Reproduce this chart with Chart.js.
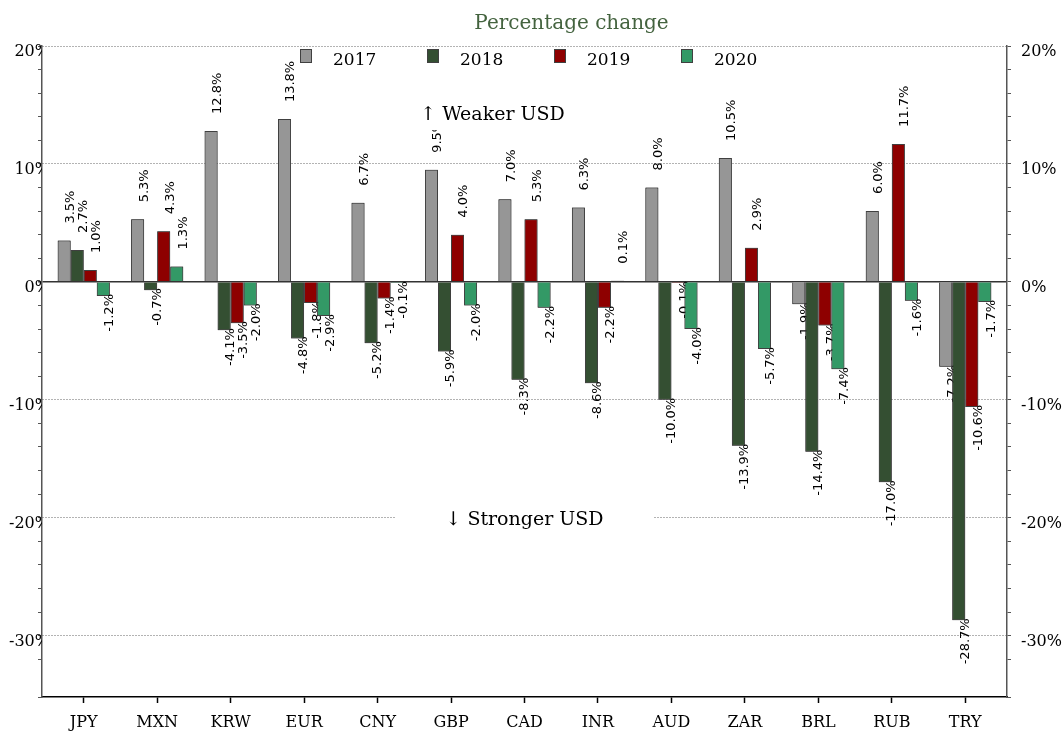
<!DOCTYPE html>
<html>
<head>
<meta charset="utf-8">
<script src="https://cdn.jsdelivr.net/npm/chart.js@4/dist/chart.umd.min.js"></script>
<style>
html, body { margin: 0; padding: 0; background: #fff; }
canvas { display: block; }
</style>
</head>
<body>
<canvas id="chart" width="1064" height="733"></canvas>
<script>
const currencies = ['JPY', 'MXN', 'KRW', 'EUR', 'CNY', 'GBP', 'CAD', 'INR', 'AUD', 'ZAR', 'BRL', 'RUB', 'TRY'];

const change2017 = [3.5, 5.3, 12.8, 13.8, 6.7, 9.5, 7.0, 6.3, 8.0, 10.5, -1.9, 6.0, -7.2];
const change2018 = [2.7, -0.7, -4.1, -4.8, -5.2, -5.9, -8.3, -8.6, -10.0, -13.9, -14.4, -17.0, -28.7];
const change2019 = [1.0, 4.3, -3.5, -1.8, -1.4, 4.0, 5.3, -2.2, -0.1, 2.9, -3.7, 11.7, -10.6];
const change2020 = [-1.2, 1.3, -2.0, -2.9, -0.1, -2.0, -2.2, 0.1, -4.0, -5.7, -7.4, -1.6, -1.7];

const yearLabels = ['2017', '2018', '2019', '2020'];
const titleText = 'Percentage change';
const notes = [
    { text: '\u2191 Weaker USD', value: 14.15, dx: -32 },
    { text: '\u2193 Stronger USD', value: -20.2, dx: 0 },
];

const serif = '"DejaVu Serif"';
const sans = '"DejaVu Sans"';
const edge = '#404040';

const data = {
    labels: currencies,
    datasets: [{
        label: yearLabels[0],
        backgroundColor: '#969696',
        data: change2017
    },
    {
        label: yearLabels[1],
        backgroundColor: '#344f32',
        data: change2018
    },
    {
        label: yearLabels[2],
        backgroundColor: '#8e0000',
        data: change2019
    },
    {
        label: yearLabels[3],
        backgroundColor: '#339966',
        data: change2020
    }]
};

const isMajor = v => Math.abs(v % 10) < 1e-6;

const yTicks = (padding) => ({
    stepSize: 2,
    autoSkip: false,
    padding: padding,
    labelOffset: 6,
    color: '#000',
    font: { family: 'DejaVu Serif', size: 16 },
    callback: v => isMajor(v) ? v + '%' : ''
});

// pull the categories in a little from the two value axes
const insetPlugin = {
    id: 'inset',
    afterLayout(chart) {
        const x = chart.scales.x;
        x._startPixel += 5;
        x._endPixel -= 5;
        x._length = x._endPixel - x._startPixel;
    }
};

// each series' labels sit under the next series' bars
const barLabels = {
    id: 'barLabels',
    afterDatasetsDraw(chart) {
        const ctx = chart.ctx;
        chart.data.datasets.forEach((ds, i) => {
            const meta = chart.getDatasetMeta(i);
            meta.data.forEach(bar => bar.draw(ctx));
            ctx.save();
            ctx.font = '13px ' + sans;
            ctx.fillStyle = '#000';
            ctx.textBaseline = 'middle';
            meta.data.forEach((bar, j) => {
                const v = ds.data[j];
                const up = v >= 0;
                ctx.save();
                ctx.translate(bar.x + bar.width / 2, up ? bar.y - 17 : bar.y - 2);
                ctx.rotate(-Math.PI / 2);
                ctx.textAlign = up ? 'left' : 'right';
                ctx.fillText(v.toFixed(1) + '%', 0, 0);
                ctx.restore();
            });
            ctx.restore();
        });
    }
};

const decorations = {
    id: 'decorations',
    afterDraw(chart) {
        const { ctx, chartArea, scales } = chart;
        const mid = (chartArea.left + chartArea.right) / 2;
        ctx.save();

        ctx.font = '20px ' + serif;
        ctx.fillStyle = '#44633f';
        ctx.textAlign = 'center';
        ctx.textBaseline = 'alphabetic';
        ctx.fillText(titleText, mid + 47, 29);

        ctx.font = '17px ' + serif;
        ctx.textAlign = 'left';
        chart.data.datasets.forEach((ds, i) => {
            const x = 300 + 127 * i;
            ctx.fillStyle = ds.backgroundColor;
            ctx.fillRect(x, 49, 12, 14);
            ctx.strokeStyle = edge;
            ctx.lineWidth = 1;
            ctx.strokeRect(x + 0.5, 49.5, 11, 13);
            ctx.fillStyle = '#000';
            ctx.fillText(ds.label, x + 33, 65);
        });

        ctx.font = '19px ' + serif;
        ctx.textAlign = 'center';
        ctx.textBaseline = 'middle';
        notes.forEach(n => {
            const y = scales.y.getPixelForValue(n.value);
            const x = mid + n.dx;
            const w = ctx.measureText(n.text).width + 100;
            ctx.fillStyle = '#fff';
            ctx.fillRect(x - w / 2, y - 15, w, 30);
            ctx.fillStyle = '#000';
            ctx.fillText(n.text, x, y);
        });
        ctx.restore();
    }
};

const config = {
    type: 'bar',
    data: data,
    options: {
        responsive: false,
        devicePixelRatio: 1,
        animation: false,
        layout: { padding: { top: 46, left: 0, right: 0, bottom: 0 } },
        datasets: {
            bar: {
                categoryPercentage: 0.71,
                barPercentage: 1.0,
                borderWidth: 1,
                borderColor: edge
            }
        },
        plugins: {
            legend: { display: false },
            title: { display: false },
            tooltip: { enabled: false }
        },
        scales: {
            x: {
                offset: true,
                afterFit: s => { s.height = 36; },
                grid: {
                    drawOnChartArea: false,
                    offset: false,
                    tickLength: 6,
                    tickColor: '#000',
                    tickWidth: 1.5
                },
                border: { color: '#000', width: 1.5 },
                ticks: {
                    padding: 10,
                    color: '#000',
                    font: { family: 'DejaVu Serif', size: 16 }
                }
            },
            y: {
                position: 'left',
                min: -35.2,
                max: 20,
                afterFit: s => { s.width = 42; },
                grid: {
                    color: c => c.tick && isMajor(c.tick.value) ? (c.tick.value === 0 ? '#333' : '#666') : 'rgba(0,0,0,0)',
                    lineWidth: c => c.tick && c.tick.value === 0 ? 1.5 : 1,
                    tickLength: 4,
                    tickColor: '#555'
                },
                border: {
                    color: '#555',
                    width: 1.5,
                    dash: c => (c.tick && c.tick.value !== 0) ? [1, 2] : []
                },
                ticks: yTicks(-12)
            },
            y2: {
                position: 'right',
                min: -35.2,
                max: 20,
                afterFit: s => { s.width = 57; },
                grid: {
                    drawOnChartArea: false,
                    tickLength: 4,
                    tickColor: '#555'
                },
                border: { color: '#555', width: 1.5 },
                ticks: yTicks(10)
            }
        }
    },
    plugins: [insetPlugin, barLabels, decorations]
};

const chart = new Chart(document.getElementById('chart'), config);
</script>
</body>
</html>
